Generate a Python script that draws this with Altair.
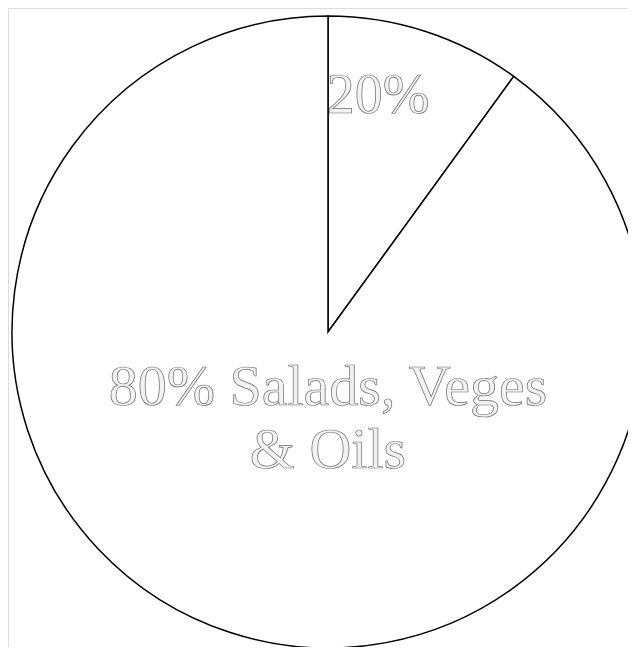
import altair as alt
import pandas as pd

# Slices as drawn in the picture (the small wedge spans roughly 36 degrees)
slices = ["small", "large"]
slice_share = [10, 90]
# Labels as written on the chart
label_small = "20%"
label_large = ["80% Salads, Veges", "& Oils"]

pie_df = pd.DataFrame({"slice": slices, "share": slice_share})

CX, CY, R = 320, 324, 316

pie = alt.Chart(pie_df).mark_arc(
    radius=R, fill="white", stroke="black", strokeWidth=1.5
).encode(
    theta=alt.Theta("share:Q", stack=True),
    order=alt.Order("slice:N", sort="descending"),
    x=alt.value(CX),
    y=alt.value(CY),
)

text_style = dict(
    font="Liberation Serif",
    fill="#f2f2f2",
    stroke="#6a6a6a",
    strokeWidth=0.7,
    align="center",
    baseline="alphabetic",
)

t_small = alt.Chart(pd.DataFrame({"t": [label_small]})).mark_text(
    fontSize=56, **text_style
).encode(text="t:N", x=alt.value(370), y=alt.value(105))
t_large = alt.Chart(pd.DataFrame({"t": ["\n".join(label_large)]})).mark_text(
    fontSize=58, lineBreak="\n", lineHeight=63, **text_style
).encode(text="t:N", x=alt.value(320), y=alt.value(397))

chart = alt.layer(pie, t_small, t_large).properties(
    width=620, height=639, autosize=alt.AutoSizeParams(type="none"), padding=0
).configure_view(strokeWidth=0, stroke="transparent").configure(background="transparent")

chart.save("out.html", embed_options={"renderer": "svg", "actions": False})
